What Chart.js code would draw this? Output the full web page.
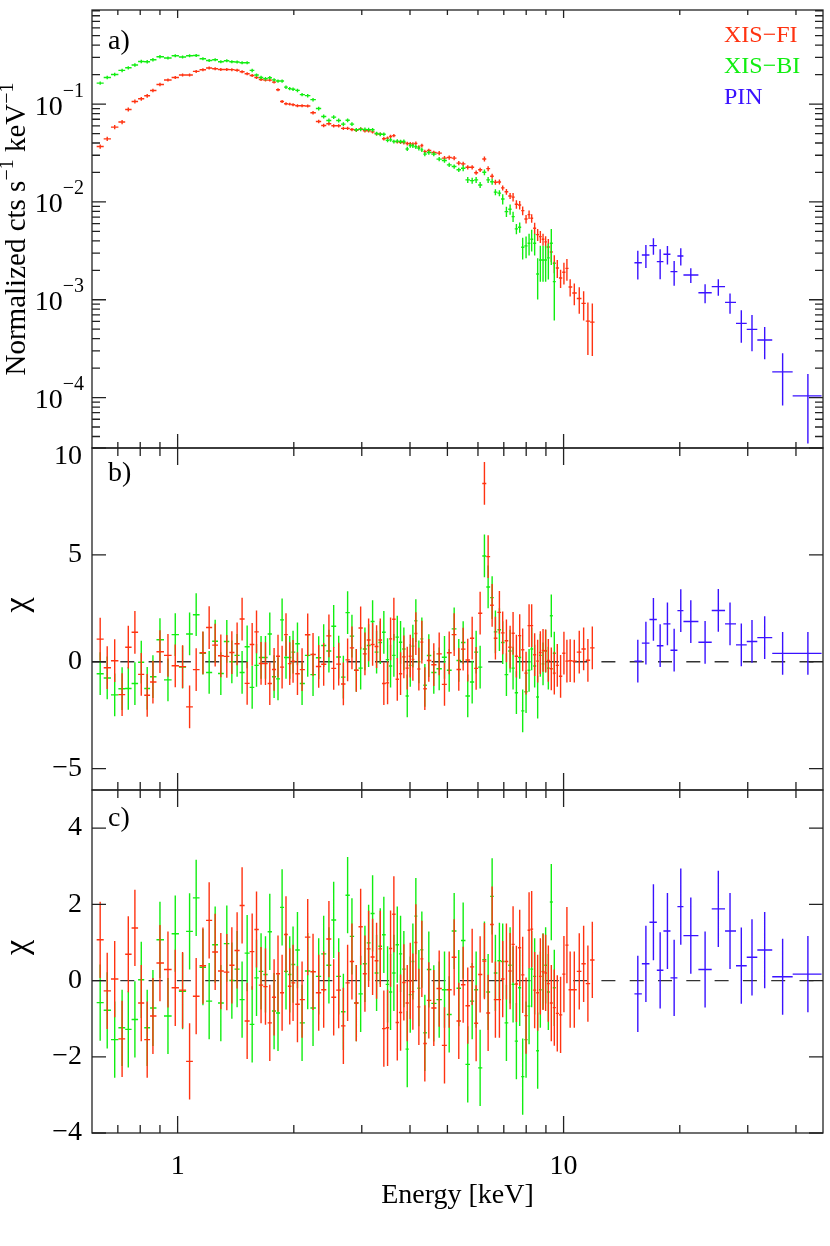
<!DOCTYPE html>
<html lang="en">
<head>
<meta charset="UTF-8">
<title>XIS + PIN spectrum</title>
<style>
  body { margin: 0; background: #fff; }
  #wrap { position: relative; width: 830px; height: 1246px; }
  #wrap canvas { position: absolute; left: 0; }
</style>
</head>
<body>
<div id="wrap">
  <canvas id="panelA" width="830" height="460" style="top:0px"></canvas>
  <canvas id="panelB" width="830" height="370" style="top:430px"></canvas>
  <canvas id="panelC" width="830" height="466" style="top:780px"></canvas>
</div>
<script src="https://cdn.jsdelivr.net/npm/chart.js"></script>
<script>
// ---- data ----
// XIS bin centres (keV), shared by FI and BI
const xisEnergy = [0.630,0.657,0.687,0.718,0.745,0.775,0.805,0.834,0.863,0.900,
  0.944,0.986,1.030,1.074,1.117,1.163,1.207,1.251,1.294,1.341,
  1.382,1.426,1.469,1.514,1.560,1.601,1.645,1.689,1.733,1.778,
  1.820,1.865,1.909,1.952,1.991,2.044,2.101,2.173,2.243,2.320,
  2.390,2.466,2.537,2.614,2.688,2.757,2.829,2.904,2.980,3.057,
  3.125,3.200,3.277,3.350,3.422,3.499,3.562,3.633,3.708,3.781,
  3.856,3.935,4.006,4.069,4.142,4.217,4.293,4.370,4.475,4.610,
  4.761,4.914,5.054,5.206,5.351,5.493,5.645,5.796,5.935,6.078,
  6.236,6.375,6.529,6.658,6.819,6.954,7.110,7.268,7.398,7.546,
  7.696,7.834,7.994,8.139,8.266,8.414,8.567,8.705,8.846,8.984,
  9.130,9.293,9.461,9.631,9.822,10.02,10.20,10.40,10.66,10.98,
  11.27,11.56,11.87];

// normalized counts (cts/s/keV) and fractional errors
const fiRate = [0.0368,0.0441,0.0582,0.0655,0.0881,0.1064,0.1133,0.1216,0.1378,0.1587,
  0.1762,0.1872,0.1981,0.1981,0.2158,0.2244,0.2335,0.2297,0.2259,0.2259,
  0.2250,0.2220,0.2143,0.2043,0.1963,0.1872,0.1786,0.1760,0.1760,0.1679,
  0.1400,0.1063,0.1007,0.1000,0.0984,0.0961,0.0961,0.0955,0.0815,0.0664,
  0.0604,0.0629,0.0600,0.0600,0.0565,0.0565,0.0549,0.0539,0.0558,0.0533,
  0.0533,0.0520,0.0496,0.0493,0.0442,0.0449,0.0466,0.0476,0.0411,0.0408,
  0.0404,0.0395,0.0393,0.0390,0.0397,0.0363,0.0377,0.0327,0.0335,0.0320,
  0.0315,0.0280,0.0284,0.0280,0.0249,0.0245,0.0226,0.0226,0.0199,0.0213,
  0.0275,0.0219,0.0183,0.0159,0.0160,0.0139,0.0127,0.0115,0.0112,0.00946,
  0.00931,0.00814,0.00670,0.00741,0.00681,0.00538,0.00463,0.00442,0.00415,0.00390,
  0.00346,0.00308,0.00236,0.00211,0.00167,0.00191,0.00209,0.00135,0.00117,0.00103,
  0.000918,0.000605,0.000591];
const fiErrFrac = [0.05,0.05,0.05,0.05,0.045,0.045,0.045,0.045,0.04,0.04,
  0.035,0.035,0.035,0.035,0.035,0.035,0.035,0.035,0.035,0.035,
  0.035,0.035,0.035,0.035,0.035,0.035,0.035,0.035,0.035,0.035,
  0.035,0.035,0.035,0.035,0.035,0.035,0.035,0.035,0.04,0.04,
  0.04,0.04,0.04,0.04,0.04,0.04,0.04,0.04,0.04,0.04,
  0.04,0.04,0.04,0.04,0.04,0.04,0.04,0.04,0.04,0.04,
  0.045,0.045,0.045,0.045,0.045,0.045,0.045,0.045,0.045,0.045,
  0.05,0.05,0.05,0.05,0.05,0.05,0.05,0.05,0.05,0.05,
  0.06,0.06,0.06,0.06,0.06,0.06,0.07,0.07,0.10,0.10,
  0.10,0.10,0.10,0.10,0.10,0.14,0.14,0.14,0.14,0.14,
  0.21,0.21,0.21,0.21,0.21,0.25,0.25,0.20,0.25,0.30,
  0.33,0.55,0.55];

const biRate = [0.164,0.187,0.201,0.221,0.235,0.251,0.273,0.271,0.284,0.305,
  0.296,0.312,0.303,0.312,0.314,0.291,0.279,0.284,0.271,0.277,
  0.271,0.269,0.265,0.265,0.221,0.198,0.187,0.182,0.186,0.177,
  0.172,0.172,0.149,0.144,0.142,0.138,0.125,0.122,0.111,0.0901,
  0.0747,0.0680,0.0736,0.0680,0.0624,0.0683,0.0624,0.0546,0.0552,0.0552,
  0.0548,0.0546,0.0500,0.0491,0.0491,0.0426,0.0431,0.0414,0.0418,0.0414,
  0.0414,0.0348,0.0377,0.0374,0.0366,0.0353,0.0340,0.0308,0.0320,0.0308,
  0.0274,0.0265,0.0239,0.0230,0.0213,0.0221,0.0168,0.0165,0.0168,0.0149,
  0.0201,0.0168,0.0161,0.0126,0.0123,0.0107,0.00796,0.00842,0.00708,0.00530,
  0.00551,0.00344,0.00355,0.00378,0.00415,0.00378,0.00183,0.00255,0.00255,0.00255,
  0.00268,0.00378,0.00153];
const biErrFrac = [0.04,0.04,0.04,0.04,0.04,0.04,0.04,0.04,0.04,0.04,
  0.035,0.035,0.035,0.035,0.035,0.035,0.035,0.035,0.035,0.035,
  0.035,0.035,0.035,0.035,0.04,0.04,0.04,0.04,0.04,0.04,
  0.04,0.04,0.04,0.04,0.04,0.04,0.04,0.04,0.04,0.045,
  0.045,0.045,0.045,0.045,0.045,0.045,0.045,0.045,0.045,0.045,
  0.045,0.045,0.045,0.045,0.045,0.045,0.045,0.045,0.045,0.045,
  0.05,0.05,0.05,0.05,0.05,0.05,0.05,0.05,0.05,0.05,
  0.05,0.05,0.05,0.05,0.05,0.07,0.07,0.07,0.07,0.07,
  0.07,0.07,0.07,0.07,0.07,0.12,0.12,0.12,0.12,0.12,
  0.12,0.25,0.25,0.25,0.25,0.25,0.45,0.40,0.40,0.40,
  0.40,0.40,0.60];

// HXD-PIN bins
const pinEdges = [15.26,15.95,16.69,17.44,18.14,18.92,19.72,20.44,22.35,24.20,26.20,27.97,29.82,31.76,34.72,39.22,46.6];
const pinEnergy = [15.57,16.34,17.09,17.79,18.58,19.34,20.12,21.36,23.26,25.17,26.99,28.87,30.77,33.19,36.94,42.95];
const pinRate = [0.00239,0.00287,0.00357,0.00245,0.00292,0.00194,0.00280,0.00179,0.00118,0.00136,0.00094,0.000573,0.000498,0.000387,0.000183,0.000104];
const pinErr = [0.00078,0.00076,0.00068,0.00083,0.00063,0.00055,0.00056,0.00031,0.00026,0.00026,0.00022,0.00021,0.00020,0.00014,0.00010,0.00007];

// residuals, panel b (continuum only)
const fiChiB = [1.06,-0.28,0.05,-1.54,0.68,1.38,-0.59,-1.57,-0.95,0.47,
  0.30,-0.19,-0.23,-2.11,-0.37,0.42,1.60,0.78,0.28,0.25,
  0.43,0.84,2.00,-1.01,0.81,1.40,-0.08,-0.09,-1.02,-0.36,
  0.26,-0.25,1.27,-0.09,0.02,-0.56,-0.37,1.26,0.34,-0.22,
  -0.12,1.21,-0.31,-0.11,-1.04,0.09,0.65,-0.40,1.58,0.37,
  1.02,0.81,0.71,1.02,-1.02,-0.99,1.07,1.99,-0.82,-0.56,
  0.23,-0.30,0.26,0.11,1.32,-0.34,0.92,-1.26,0.06,-0.14,
  0.37,-1.06,0.42,1.27,-0.36,0.59,0.08,1.10,-0.31,2.27,
  8.34,4.92,2.64,1.10,2.31,1.35,0.98,0.68,1.33,0.26,
  1.22,0.56,-0.53,1.69,1.69,0.33,0.03,0.43,0.53,0.51,
  0.06,-0.33,-0.53,-0.17,-0.68,0.40,0.03,0.05,0.03,0.45,
  0.60,0.07,0.65];
const biChiB = [-0.56,-0.76,-1.55,-1.26,-1.25,-1.02,-0.02,-1.25,-0.70,1.03,
  -0.85,1.27,-0.25,1.30,2.20,0.40,-0.50,0.96,-0.55,0.95,
  0.00,0.30,-0.50,0.70,-1.20,-0.17,0.20,0.20,1.30,-0.70,
  -0.80,1.96,0.20,0.20,0.45,0.84,-1.02,0.30,-0.60,0.19,
  0.76,0.50,1.66,0.22,-0.72,2.30,1.20,-0.40,-0.30,0.60,
  0.76,1.88,0.45,0.90,1.38,0.10,-0.20,0.30,1.15,0.91,
  0.60,-1.60,-0.17,0.73,1.92,0.00,1.07,-1.10,0.29,-0.50,
  -0.33,0.21,-0.40,1.54,0.06,0.90,-1.60,-0.95,0.45,-0.25,
  4.95,3.50,3.00,1.40,1.50,0.90,-0.60,0.50,-0.30,-1.45,
  0.20,-2.30,-1.40,-0.40,0.60,-0.20,-1.65,0.30,-0.10,0.50,
  -0.30,2.15,0.40];
const pinChiB = [0.03,0.87,1.98,0.75,1.77,0.54,2.39,1.88,0.91,2.40,1.77,0.79,0.95,1.13,0.39,0.39];

// residuals, panel c (with line)
const fiChiC = [1.07,-0.27,0.04,-1.53,0.69,1.38,-0.59,-1.55,-0.93,0.46,
  0.29,-0.19,-0.25,-2.12,-0.41,0.39,1.58,0.75,0.25,0.22,
  0.40,0.79,1.97,-1.06,0.76,1.34,-0.12,-0.16,-1.11,-0.44,
  0.18,-0.32,1.21,-0.15,-0.06,-0.62,-0.50,1.14,0.23,-0.32,
  -0.24,1.09,-0.44,-0.25,-1.19,-0.06,0.50,-0.59,1.41,0.18,
  0.83,0.62,0.52,0.83,-1.26,-1.24,0.84,1.74,-1.10,-0.84,
  -0.05,-0.59,-0.01,-0.29,1.00,-0.69,0.57,-1.65,-0.52,-0.72,
  -0.21,-1.70,-0.24,0.61,-1.06,-0.11,-0.66,0.36,-1.12,0.16,
  0.51,-0.85,1.47,-0.50,-0.50,0.04,0.50,0.25,0.95,-0.09,
  0.86,0.15,-0.92,1.32,1.35,-0.25,-0.32,0.11,0.23,0.20,
  -0.08,-0.59,-0.71,-0.86,-0.90,0.17,0.93,-0.24,-0.24,0.24,
  0.44,-0.08,0.54];
const biChiC = [-0.58,-0.78,-1.55,-1.24,-1.28,-1.02,0.02,-1.24,-0.72,1.07,
  -0.93,1.23,-0.28,1.29,2.17,0.35,-0.54,0.94,-0.59,0.97,
  0.00,0.30,-0.50,0.72,-1.15,0.07,0.24,0.16,1.28,-0.80,
  -0.85,1.92,0.24,0.16,0.42,0.80,-1.11,0.25,-0.72,0.11,
  0.70,0.40,1.59,0.11,-0.82,2.24,1.16,-0.59,-0.35,0.44,
  0.99,1.76,0.20,0.90,1.20,-0.10,-0.30,0.20,0.94,0.70,
  0.30,-1.80,-0.37,0.50,1.69,-0.20,0.81,-1.37,0.29,-0.60,
  -0.50,-0.24,-0.89,1.30,-0.20,1.05,-2.20,-0.54,-0.24,-2.29,
  0.55,-0.30,2.21,0.20,0.52,0.50,-1.11,0.40,-0.10,-1.59,
  -0.19,-2.52,-1.55,-0.67,0.30,0.11,-1.84,-0.24,0.24,0.40,
  -0.30,2.06,-0.19];
const pinChiC = [-0.35,0.44,1.53,0.27,1.30,0.07,1.94,1.18,0.29,1.88,1.30,0.39,0.61,0.80,0.10,0.17];

// axis ticks
const energyTicks = [1, 10];
const energyMinor = [0.7, 0.8, 0.9, 2, 3, 4, 5, 6, 7, 8, 9, 20, 30, 40];
const rateDecades = [1e-4, 1e-3, 1e-2, 1e-1];
const chiTicksB = [-5, 0, 5, 10];
const chiTicksC = [-4, -2, 0, 2, 4];

// ---- drawing ----
const FONT = "'Liberation Serif', 'Times New Roman', serif";
Chart.defaults.font.family = FONT;
Chart.defaults.color = '#000';

const RED = '#ff3311', GREEN = '#11ee11', BLUE = '#3a12ff';

// contiguous bins: edges halfway (in log) between neighbouring centres
function binEdges(c) {
  const lo = [], hi = [];
  for (let i = 0; i < c.length; i++) {
    const prev = i > 0 ? c[i - 1] : c[i] * c[i] / c[i + 1];
    const next = i < c.length - 1 ? c[i + 1] : c[i] * c[i] / c[i - 1];
    lo.push(Math.sqrt(prev * c[i]));
    hi.push(Math.sqrt(c[i] * next));
  }
  return { lo, hi };
}
const xisBins = binEdges(xisEnergy);
const nBI = biRate.length;

function series(color, xs, ys, errs, lo, hi) {
  return {
    borderColor: color,
    backgroundColor: color,
    data: xs.map((x, i) => ({ x: x, y: ys[i] })),
    yErr: errs, xLo: lo, xHi: hi,
    pointRadius: 0, showLine: false
  };
}
const ones = n => new Array(n).fill(1);   // chi residuals carry unit errors

const errorBars = {
  id: 'errorBars',
  beforeDatasetsDraw(chart, args, opts) {
    if (!opts.zeroLine) return;
    const { ctx, chartArea: a, scales: { y } } = chart;
    const y0 = y.getPixelForValue(0);
    ctx.save();
    ctx.strokeStyle = '#333';
    ctx.lineWidth = 1.3;
    ctx.setLineDash([14, 14.3]);
    ctx.beginPath();
    ctx.moveTo(a.left, y0);
    ctx.lineTo(a.right, y0);
    ctx.stroke();
    ctx.restore();
  },
  afterDatasetsDraw(chart) {
    const { ctx, chartArea: a, scales: { x, y } } = chart;
    ctx.save();
    ctx.beginPath();
    ctx.rect(a.left, a.top, a.right - a.left, a.bottom - a.top);
    ctx.clip();
    ctx.lineWidth = 1.4;
    chart.data.datasets.forEach((ds, di) => {
      const meta = chart.getDatasetMeta(di);
      ctx.strokeStyle = ds.borderColor;
      ctx.beginPath();
      meta.data.forEach((pt, i) => {
        const v = ds.data[i].y, e = ds.yErr[i];
        const yt = y.getPixelForValue(v + e);
        const yb = y.getPixelForValue(Math.max(v - e, y.min));
        ctx.moveTo(x.getPixelForValue(ds.xLo[i]), pt.y);
        ctx.lineTo(x.getPixelForValue(ds.xHi[i]), pt.y);
        ctx.moveTo(pt.x, yt);
        ctx.lineTo(pt.x, yb);
      });
      ctx.stroke();
    });
    ctx.restore();
  }
};

function rotatedText(ctx, x, y, parts) {
  ctx.save();
  ctx.translate(x, y);
  ctx.rotate(-Math.PI / 2);
  let total = 0;
  parts.forEach(p => { ctx.font = p[1] + 'px ' + FONT; total += ctx.measureText(p[0]).width; });
  let cx = -total / 2;
  ctx.textAlign = 'left';
  ctx.textBaseline = 'alphabetic';
  ctx.fillStyle = '#000';
  parts.forEach(p => {
    ctx.font = p[1] + 'px ' + FONT;
    ctx.fillText(p[0], cx, -p[2]);
    cx += ctx.measureText(p[0]).width;
  });
  ctx.restore();
}

const frame = {
  id: 'frame',
  afterDraw(chart, args, o) {
    const { ctx, chartArea: a, scales: { x, y } } = chart;
    ctx.save();
    ctx.strokeStyle = '#222';
    ctx.lineWidth = 1.3;
    ctx.strokeRect(a.left, a.top, a.right - a.left, a.bottom - a.top);
    ctx.beginPath();
    const xt = (list, top, bottom) => list.forEach(v => {
      const px = x.getPixelForValue(v);
      ctx.moveTo(px, a.top); ctx.lineTo(px, a.top + top);
      ctx.moveTo(px, a.bottom); ctx.lineTo(px, a.bottom - bottom);
    });
    xt(energyTicks, o.xTop[0], o.xBottom[0]);
    xt(energyMinor, o.xTop[1], o.xBottom[1]);
    const yt = (list, len) => list.forEach(v => {
      const py = y.getPixelForValue(v);
      if (py < a.top - 0.5 || py > a.bottom + 0.5) return;
      ctx.moveTo(a.left, py); ctx.lineTo(a.left + len, py);
      ctx.moveTo(a.right, py); ctx.lineTo(a.right - len, py);
    });
    yt(o.yMajor, 14);
    yt(o.yMinor || [], 8);
    ctx.stroke();

    ctx.fillStyle = '#000';
    ctx.textAlign = 'left';
    ctx.textBaseline = 'alphabetic';
    ctx.font = '28px ' + FONT;
    ctx.fillText(o.label, 108, a.top + o.labelDrop);

    // the top label sits just inside the panel, below the shared border
    if (o.topLabel) {
      ctx.textAlign = 'right';
      ctx.textBaseline = 'middle';
      ctx.fillText(o.topLabel, a.left - 10, a.top + 9);
      ctx.textBaseline = 'alphabetic';
    }

    if (o.decadeLabels) {
      rateDecades.forEach(v => {
        const py = y.getPixelForValue(v);
        const sup = '\u2212' + Math.round(-Math.log10(v));
        ctx.font = '20px ' + FONT;
        const ws = ctx.measureText(sup).width;
        const x0 = a.left - 8 - ws;
        ctx.textAlign = 'left';
        ctx.fillText(sup, x0, py - 7.5);
        ctx.font = '28px ' + FONT;
        ctx.textAlign = 'right';
        ctx.fillText('10', x0, py + 10.5);
      });
    }
    if (o.legend) {
      ctx.textAlign = 'left';
      ctx.font = '24px ' + FONT;
      o.legend.forEach(l => { ctx.fillStyle = l[1]; ctx.fillText(l[0], 724, l[2]); });
    }
    ctx.restore();
    if (o.title) rotatedText(ctx, o.titleX || 25, (a.top + a.bottom) / 2 + (o.titleShift || 0), o.title);
  }
};

function yAxis(extra) {
  return Object.assign({
    grid: { display: false, drawTicks: false },
    border: { display: false },
    afterFit: s => { s.width = 92; s.paddingTop = 0; s.paddingBottom = 0; }
  }, extra);
}
function chiAxis(min, max, ticks, skip) {
  return yAxis({
    type: 'linear', min: min, max: max,
    afterBuildTicks: s => { s.ticks = ticks.map(v => ({ value: v })); },
    ticks: {
      font: { size: 28 }, padding: 10, color: '#000',
      callback: v => (v === skip ? '' : v < 0 ? '\u2212' + Math.abs(v) : String(v))
    }
  });
}
const hiddenX = { type: 'logarithmic', min: 0.603, max: 47, display: false };

function panel(id, datasets, padding, scales, frameOpts) {
  return new Chart(document.getElementById(id), {
    type: 'scatter',
    data: { datasets: datasets },
    options: {
      responsive: false, animation: false, events: [],
      layout: { padding: padding },
      plugins: { legend: { display: false }, tooltip: { enabled: false }, frame: frameOpts, errorBars: frameOpts },
      scales: scales
    },
    plugins: [errorBars, frame]
  });
}

const rateMinor = [];
[1e-5, 1e-4, 1e-3, 1e-2, 1e-1].forEach(d => { for (let m = 2; m <= 9; m++) rateMinor.push(m * d); });

// residual panels: BI first, FI drawn over it, PIN last
function residualSets(fi, bi, pin) {
  return [
    series(GREEN, xisEnergy.slice(0, nBI), bi, ones(nBI), xisBins.lo.slice(0, nBI), xisBins.hi.slice(0, nBI)),
    series(RED, xisEnergy, fi, ones(fi.length), xisBins.lo, xisBins.hi),
    series(BLUE, pinEnergy, pin, ones(pin.length), pinEdges.slice(0, -1), pinEdges.slice(1))
  ];
}
const chiTitle = [['\u03C7', 34, 0]];

panel('panelA', [
  series(RED, xisEnergy, fiRate, fiRate.map((v, i) => v * fiErrFrac[i]), xisBins.lo, xisBins.hi),
  series(GREEN, xisEnergy.slice(0, nBI), biRate, biRate.map((v, i) => v * biErrFrac[i]), xisBins.lo.slice(0, nBI), xisBins.hi.slice(0, nBI)),
  series(BLUE, pinEnergy, pinRate, pinErr, pinEdges.slice(0, -1), pinEdges.slice(1))
], { top: 10, bottom: 12, left: 0, right: 7 }, {
  x: hiddenX,
  y: yAxis({ type: 'logarithmic', min: 3.05e-5, max: 0.916, ticks: { display: false } })
}, {
  xTop: [8, 5], xBottom: [14, 6], yMajor: rateDecades, yMinor: rateMinor,
  label: 'a)', labelDrop: 39, decadeLabels: true,
  legend: [['XIS\u2212FI', RED, 41.7], ['XIS\u2212BI', GREEN, 73.3], ['PIN', BLUE, 104]],
  title: [['Normalized cts s', 29, 0], ['\u22121', 20, 12], [' keV', 29, 0], ['\u22121', 20, 12]]
});

panel('panelB', residualSets(fiChiB, biChiB, pinChiB),
  { top: 18, bottom: 10, left: 0, right: 7 }, {
  x: hiddenX,
  y: chiAxis(-6, 10, chiTicksB, 10)
}, {
  xTop: [17, 8], xBottom: [17, 8], yMajor: chiTicksB,
  label: 'b)', labelDrop: 33, zeroLine: true, topLabel: '10',
  title: chiTitle, titleX: 27, titleShift: -14
});

panel('panelC', residualSets(fiChiC, biChiC, pinChiC),
  { top: 10, bottom: 0, left: 0, right: 7 }, {
  x: {
    type: 'logarithmic', min: 0.603, max: 47,
    grid: { display: false, drawTicks: false },
    border: { display: false },
    afterBuildTicks: s => { s.ticks = energyTicks.map(v => ({ value: v })); },
    afterFit: s => { s.height = 113; s.paddingLeft = 0; s.paddingRight = 0; },
    ticks: { font: { size: 28 }, padding: 17, color: '#000', maxRotation: 0, autoSkip: false, callback: v => String(v) },
    title: { display: true, text: 'Energy [keV]', font: { size: 28 }, color: '#000', padding: { top: 0, bottom: 34 } }
  },
  y: chiAxis(-4, 5, chiTicksC)
}, {
  xTop: [17, 8], xBottom: [17, 8], yMajor: chiTicksC,
  label: 'c)', labelDrop: 36, zeroLine: true,
  title: chiTitle, titleX: 27, titleShift: -14
});
</script>
</body>
</html>
